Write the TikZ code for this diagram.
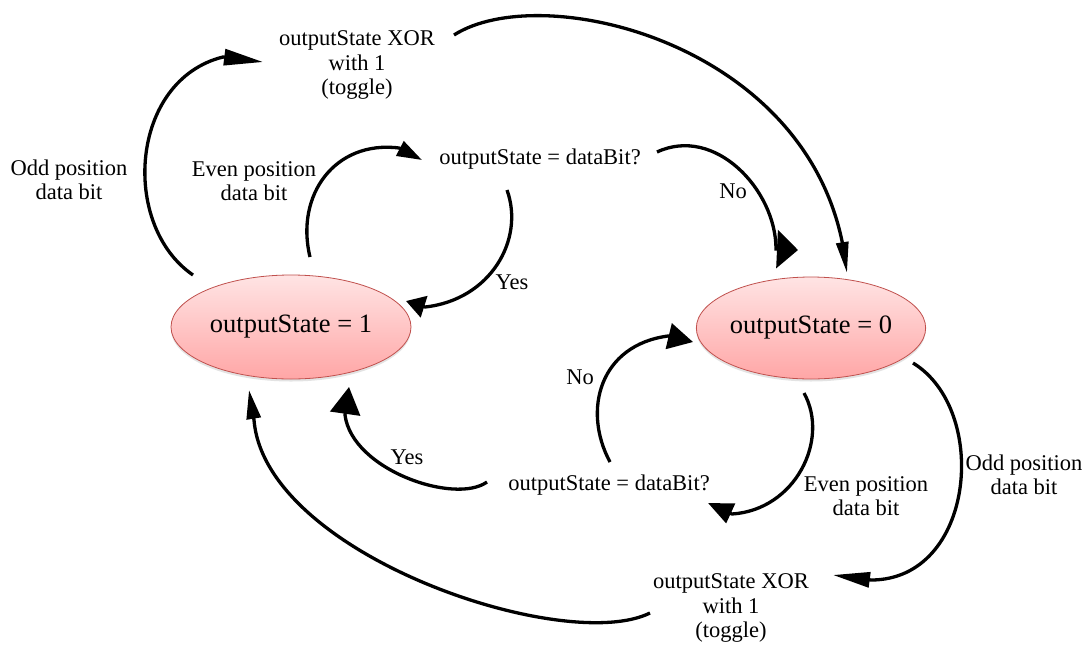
\documentclass[tikz,border=0pt]{standalone}
\usepackage{fontspec}
\setmainfont{Liberation Serif}
\usetikzlibrary{arrows.meta,shadows,shapes.geometric}
\definecolor{statetop}{RGB}{255,228,228}
\definecolor{statebottom}{RGB}{255,166,166}
\definecolor{stateborder}{RGB}{192,80,77}
\begin{document}
\begin{tikzpicture}[x=1pt,y=-1pt,
  state/.style={ellipse, draw=stateborder, line width=0.8pt,
    top color=statetop, bottom color=statebottom, inner sep=0pt,
    font=\fontsize{26.5}{30}\selectfont,
    drop shadow={opacity=0.22, shadow xshift=0pt, shadow yshift=-2.5pt}},
  lbl/.style={align=center, inner sep=0pt, font=\fontsize{22.5}{24.5}\selectfont},
  flow/.style={line width=3.3pt},
]
% canvas
\fill[white] (0,0) rectangle (1092,646);
\useasboundingbox (0,0) rectangle (1092,646);

% the two states
\node[state, minimum width=240pt, minimum height=104pt] (one)  at (291,327) {outputState = 1};
\node[state, minimum width=216pt, minimum height=102pt] (zero) at (811,328) {outputState = 0};

% text of the transitions
\node[lbl] (xorT)  at (357,65)  {outputState XOR\\with 1\\(toggle)};
\node[lbl] (oddL)  at (69,180)  {Odd position\\data bit};
\node[lbl] (evenL) at (254,181) {Even position\\data bit};
\node[lbl] (qT)    at (540,159) {outputState = dataBit?};
\node[lbl] (noT)   at (733,191) {No};
\node[lbl] (yesT)  at (512,282) {Yes};
\node[lbl] (noB)   at (580,377) {No};
\node[lbl] (yesB)  at (407,457) {Yes};
\node[lbl] (qB)    at (609,485) {outputState = dataBit?};
\node[lbl] (evenR) at (866,496) {Even position\\data bit};
\node[lbl] (oddR)  at (1024,475) {Odd position\\data bit};
\node[lbl] (xorB)  at (731,608) {outputState XOR\\with 1\\(toggle)};

% end points of the curved connectors (start, head base, head tip)
\coordinate (a1s) at (193,275); \coordinate (a1b) at (223,57);  \coordinate (a1t) at (263,62);
\coordinate (a2s) at (454,35);  \coordinate (a2b) at (842,241); \coordinate (a2t) at (847,273);
\coordinate (a3s) at (310,257); \coordinate (a3b) at (399,148); \coordinate (a3t) at (422,160);
\coordinate (a4s) at (507,190); \coordinate (a4b) at (425,307); \coordinate (a4t) at (406,301);
\coordinate (a5s) at (657,152); \coordinate (a5b) at (776,249); \coordinate (a5t) at (798,250);
\coordinate (a6s) at (610,462); \coordinate (a6b) at (668,336); \coordinate (a6t) at (693,342);
\coordinate (a7s) at (804,393); \coordinate (a7b) at (732,514); \coordinate (a7t) at (708,503);
\coordinate (a8s) at (487,482); \coordinate (a8b) at (345,415); \coordinate (a8t) at (349,387);
\coordinate (a9s) at (913,363); \coordinate (a9b) at (871,580); \coordinate (a9t) at (833,575);
\coordinate (a10s) at (650,613); \coordinate (a10b) at (254,420); \coordinate (a10t) at (249,390);

% state 1: odd bit -> toggle -> state 0
\draw[flow, -{Triangle[length=39pt,width=16pt]}] (a1s) .. controls (120,225) and (130,80) .. (a1b) -- (a1t);
\draw[flow, -{Triangle[length=31pt,width=12pt]}] (a2s) .. controls (540,-20) and (800,40) .. (a2b) -- (a2t);
% state 1: even bit -> compare
\draw[flow, -{Triangle[length=25pt,width=16pt]}] (a3s) .. controls (295,195) and (335,140) .. (a3b) -- (a3t);
\draw[flow, -{Triangle[length=19pt,width=22pt]}] (a4s) .. controls (525,240) and (490,300) .. (a4b) -- (a4t);
\draw[flow, -{Triangle[length=21pt,width=38pt]}] (a5s) .. controls (715,125) and (776,190) .. (a5b) -- (a5t);
% state 0: even bit -> compare
\draw[flow, -{Triangle[length=25pt,width=26pt]}] (a6s) .. controls (582,410) and (600,345) .. (a6b) -- (a6t);
\draw[flow, -{Triangle[length=25pt,width=21pt]}] (a7s) .. controls (830,440) and (795,510) .. (a7b) -- (a7t);
\draw[flow, -{Triangle[length=27pt,width=30pt]}] (a8s) .. controls (455,505) and (352,470) .. (a8b) -- (a8t);
% state 0: odd bit -> toggle -> state 1
\draw[flow, -{Triangle[length=37pt,width=15pt]}] (a9s) .. controls (990,410) and (975,580) .. (a9b) -- (a9t);
\draw[flow, -{Triangle[length=29pt,width=14pt]}] (a10s) .. controls (565,655) and (265,555) .. (a10b) -- (a10t);
\end{tikzpicture}
\end{document}
